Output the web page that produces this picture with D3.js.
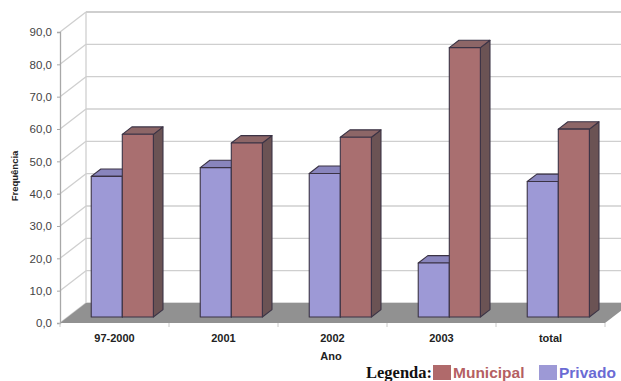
<!DOCTYPE html>
<html>
<head>
<meta charset="utf-8">
<script src="https://cdn.jsdelivr.net/npm/d3@7"></script>
<style>
  html, body { margin: 0; padding: 0; background: #fff; }
  svg { display: block; }
</style>
</head>
<body>
<svg id="chart" width="621" height="381"></svg>
<script>
// Data
const categories = ["97-2000", "2001", "2002", "2003", "total"];
const seriesNames = ["Privado", "Municipal"];
const privado = [43.5, 46.2, 44.4, 16.7, 41.9];
const municipal = [56.5, 53.8, 55.6, 83.3, 58.1];
const yTicks = [0, 10, 20, 30, 40, 50, 60, 70, 80, 90];

(function () {
  const svg = d3.select("#chart");

  // Front plane geometry and depth of the 3D box
  const plotLeft = 60, plotRight = 605, plotBottom = 323, plotTop = 32;
  const depthX = 26, depthY = -20;          // full depth of walls / floor
  const barF0 = 0.3, barF1 = 0.67;           // bars sit between these depth fractions

  const y = d3.scaleLinear().domain([0, 90]).range([plotBottom, plotTop]);
  const x = d3.scaleBand().domain(categories).range([plotLeft, plotRight])
    .paddingInner(0.43).paddingOuter(0.215);
  const xs = d3.scaleBand().domain(seriesNames).range([0, x.bandwidth()]);

  const colors = {
    Privado:   { front: "#9d99d6", top: "#8985bd", side: "#6f6b9a" },
    Municipal: { front: "#a96f70", top: "#8d6667", side: "#6b5354" }
  };

  const gridColor = "#cfcfcf";

  // Back-wall gridlines and left-wall diagonals
  yTicks.forEach(t => {
    const yy = y(t);
    svg.append("line")
      .attr("x1", plotLeft + depthX).attr("x2", 621)
      .attr("y1", yy + depthY).attr("y2", yy + depthY)
      .attr("stroke", gridColor).attr("stroke-width", t === 90 ? 2 : 1.3);
    svg.append("line")
      .attr("x1", plotLeft).attr("y1", yy)
      .attr("x2", plotLeft + depthX).attr("y2", yy + depthY)
      .attr("stroke", gridColor).attr("stroke-width", 1.3);
  });

  // Back wall left edge
  svg.append("line")
    .attr("x1", plotLeft + depthX).attr("x2", plotLeft + depthX)
    .attr("y1", plotTop + depthY).attr("y2", plotBottom + depthY)
    .attr("stroke", gridColor).attr("stroke-width", 1.3);

  // Floor
  svg.append("polygon")
    .attr("points", [
      [plotLeft, plotBottom], [plotRight, plotBottom],
      [plotRight + depthX, plotBottom + depthY], [plotLeft + depthX, plotBottom + depthY]
    ].map(p => p.join(",")).join(" "))
    .attr("fill", "#919191");

  // Value axis (front left edge) with ticks
  const yAxis = d3.axisLeft(y).tickValues(yTicks).tickSize(3).tickPadding(5)
    .tickFormat(d => d3.format(".1f")(d).replace(".", ","));
  const gy = svg.append("g").attr("transform", `translate(${plotLeft},0)`).call(yAxis);
  gy.select(".domain").attr("stroke", "#a8a8a8").attr("stroke-width", 1.3);
  gy.selectAll(".tick line").attr("stroke", "#a8a8a8");
  gy.selectAll(".tick text")
    .attr("fill", "#444").attr("font-family", "Liberation Sans, Arial, sans-serif")
    .attr("font-size", "11.5px");

  // Category axis ticks along the floor front edge
  const bounds = d3.range(categories.length + 1).map(i => plotLeft + i * x.step());
  svg.selectAll(".xtick").data(bounds).enter().append("line")
    .attr("x1", d => d).attr("x2", d => d)
    .attr("y1", plotBottom).attr("y2", plotBottom + 4)
    .attr("stroke", "#c8c8c8");

  // Bars
  const rows = categories.map((c, i) => ({ cat: c, Privado: privado[i], Municipal: municipal[i] }));
  const dx0 = depthX * barF0, dy0 = depthY * barF0;
  const bdx = depthX * (barF1 - barF0), bdy = depthY * (barF1 - barF0);

  rows.forEach(r => {
    seriesNames.forEach(s => {
      const x0 = x(r.cat) + xs(s) + dx0;
      const x1 = x0 + xs.bandwidth();
      const yT = y(r[s]) + dy0;
      const yB = y(0) + dy0;
      const g = svg.append("g")
        .attr("stroke", "#3b3345").attr("stroke-width", 1.1).attr("stroke-linejoin", "round");
      // side face
      g.append("polygon")
        .attr("points", [[x1, yT], [x1 + bdx, yT + bdy], [x1 + bdx, yB + bdy], [x1, yB]]
          .map(p => p.join(",")).join(" "))
        .attr("fill", colors[s].side);
      // top face
      g.append("polygon")
        .attr("points", [[x0, yT], [x0 + bdx, yT + bdy], [x1 + bdx, yT + bdy], [x1, yT]]
          .map(p => p.join(",")).join(" "))
        .attr("fill", colors[s].top);
      // front face
      g.append("rect")
        .attr("x", x0).attr("y", yT)
        .attr("width", x1 - x0).attr("height", yB - yT)
        .attr("fill", colors[s].front);
    });
  });

  // Category labels
  svg.selectAll(".xlabel").data(categories).enter().append("text")
    .attr("x", d => x(d) + x.bandwidth() / 2)
    .attr("y", 342)
    .attr("text-anchor", "middle")
    .attr("font-family", "Liberation Sans, Arial, sans-serif")
    .attr("font-size", "11px").attr("font-weight", "bold")
    .attr("fill", "#222")
    .text(d => d);

  // Axis titles
  svg.append("text")
    .attr("x", 331).attr("y", 360)
    .attr("text-anchor", "middle")
    .attr("font-family", "Liberation Sans, Arial, sans-serif")
    .attr("font-size", "11px").attr("font-weight", "bold").attr("fill", "#222")
    .text("Ano");

  svg.append("text")
    .attr("transform", "translate(18,176) rotate(-90)")
    .attr("text-anchor", "middle")
    .attr("font-family", "Liberation Sans, Arial, sans-serif")
    .attr("font-size", "9.5px").attr("font-weight", "bold").attr("fill", "#222")
    .text("Frequência");

  // Legend
  const legend = svg.append("g");
  legend.append("text")
    .attr("x", 366).attr("y", 378)
    .attr("font-family", "Liberation Serif, Times New Roman, serif")
    .attr("font-size", "16.5px").attr("font-weight", "bold").attr("fill", "#111")
    .text("Legenda:");

  const legendItems = [
    { name: "Municipal", sq: "#b06a6b", txt: "#b55f62", x: 433 },
    { name: "Privado",   sq: "#9d99d6", txt: "#6b6bd4", x: 539 }
  ];
  legendItems.forEach(it => {
    legend.append("rect")
      .attr("x", it.x).attr("y", 365)
      .attr("width", 18).attr("height", 15)
      .attr("fill", it.sq);
    legend.append("text")
      .attr("x", it.x + 20).attr("y", 378)
      .attr("font-family", "Liberation Sans, Arial, sans-serif")
      .attr("font-size", "15.5px").attr("font-weight", "bold")
      .attr("fill", it.txt)
      .text(it.name);
  });
})();
</script>
</body>
</html>
